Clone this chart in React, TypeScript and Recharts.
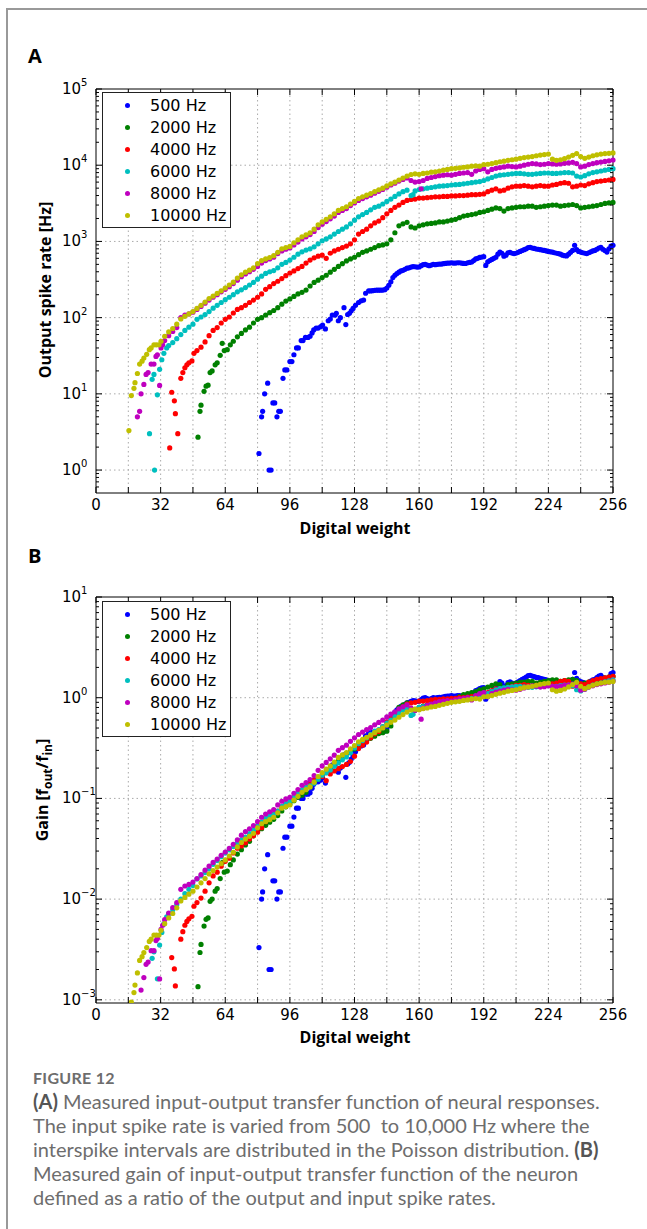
import { ScatterChart, Scatter, XAxis, YAxis, ReferenceLine, Legend } from 'recharts';

// input spike rates and their legend names / colours (matplotlib classic b g r c m y)
const INPUT_HZ = [500, 2000, 4000, 6000, 8000, 10000];
const NAMES = ['500 Hz', '2000 Hz', '4000 Hz', '6000 Hz', '8000 Hz', '10000 Hz'];
const COLORS = ['#0000ff', '#008000', '#ff0000', '#00bfbf', '#bf00bf', '#bfbf00'];

const X_TICKS = [0, 16, 32, 48, 64, 80, 96, 112, 128, 144, 160, 176, 192, 208, 224, 240, 256];
const A_DECADES = [1, 10, 100, 1000, 10000, 100000];
const B_DECADES = [0.001, 0.01, 0.1, 1, 10];

// output spike rate [Hz] vs digital weight
const rate500 = [
  [80.7, 1.65], [82, 5], [82.5, 5.9], [83.5, 10], [85, 13.8], [85.7, 1], [86.7, 1], [87.6, 7.6], [88.5, 7.6],
  [89.6, 5], [90.5, 5.9], [91.3, 5.9], [92.6, 16], [93.5, 20.6], [94.5, 20.6], [96, 26.5], [97, 26.5], [98, 32.6],
  [99.3, 40], [100.2, 40], [101.6, 50], [102.5, 50], [103.7, 55], [105, 55], [106, 57], [107, 63], [107.8, 69],
  [109, 73], [110, 73], [111.3, 76], [112.2, 80], [113.6, 71], [115, 91], [116, 96], [117, 108], [118.4, 108],
  [119, 114], [120, 91], [121, 100], [122.8, 135], [123.7, 81], [124.6, 110], [125.5, 114], [126.4, 123],
  [127.3, 132], [128.5, 145], [130, 158], [131.3, 166], [132.5, 170], [133.5, 209], [135, 224], [136, 224],
  [137, 226], [138, 228], [139, 229], [140, 229], [141, 229], [142, 230], [143, 233], [144, 245], [145, 266],
  [146, 295], [147, 335], [148, 360], [149, 378], [150, 395], [151, 410], [152, 417], [153, 430], [154, 445],
  [155, 450], [156, 460], [157, 468], [158, 465], [159, 460], [160, 462], [161, 480], [162, 495], [163, 500],
  [164, 490], [165, 480], [166, 490], [167, 500], [168, 495], [169, 500], [170, 505], [171, 505], [172, 510],
  [173, 515], [174, 520], [175, 520], [176, 525], [177, 520], [178, 520], [179, 525], [180, 525], [181, 520],
  [182, 515], [183, 513], [184, 525], [185, 530], [186, 537], [187, 560], [188, 589], [189, 600], [190, 617],
  [191, 625], [192, 630], [193, 484], [194, 540], [195, 562], [196, 580], [197, 600], [198, 620], [199, 680],
  [200, 724], [201, 700], [202, 640], [203, 660], [204, 708], [205, 720], [206, 700], [207, 690], [208, 700],
  [209, 720], [210, 740], [211, 760], [212, 780], [213, 800], [214, 830], [215, 834], [216, 820], [217, 810],
  [218, 795], [219, 790], [220, 780], [221, 770], [222, 762], [223, 750], [224, 740], [225, 730], [226, 724],
  [227, 710], [228, 700], [229, 690], [230, 680], [231, 660], [232, 650], [233, 645], [234, 680], [235, 720],
  [236, 762], [237, 890], [238, 780], [239, 740], [240, 724], [241, 710], [242, 700], [243, 690], [244, 710],
  [245, 730], [246, 750], [247, 762], [248, 790], [249, 820], [250, 834], [251, 790], [252, 760], [253, 724],
  [254, 800], [255, 870], [256, 890],
];

const rate2000 = [
  [50.5, 2.7], [51.5, 5.9], [52, 7.1], [53.5, 10.8], [54.5, 12.6], [55.5, 13], [56.5, 19], [57.5, 20], [59, 24],
  [60, 25.5], [61.5, 32], [62.5, 46], [63.5, 37], [65, 38], [66.5, 44], [68, 49], [70, 56], [72, 62], [74, 69],
  [76, 75], [78, 85], [80, 95], [82, 100], [84, 108], [86, 116], [88, 124], [90, 135], [92, 150], [94, 165],
  [96, 176], [98, 190], [100, 205], [102, 215], [104, 230], [106, 260], [108, 290], [110, 310], [112, 335],
  [114, 360], [116, 395], [118, 430], [120, 470], [122, 510], [124, 555], [126, 590], [128, 620], [130, 670],
  [132, 720], [134, 750], [136, 790], [138, 830], [140, 880], [142, 900], [144, 930], [146, 1050], [148, 1300],
  [150, 1600], [152, 1700], [154, 1780], [156, 1550], [158, 1500], [160, 1600], [162, 1650], [164, 1700],
  [166, 1720], [168, 1750], [170, 1800], [172, 1800], [174, 1850], [176, 1900], [178, 1950], [180, 2050],
  [182, 2150], [184, 2200], [186, 2250], [188, 2300], [190, 2400], [192, 2450], [194, 2550], [196, 2650],
  [198, 2750], [200, 2700], [202, 2500], [204, 2700], [206, 2750], [208, 2800], [210, 2850], [212, 2850],
  [214, 2900], [216, 2900], [218, 2800], [220, 2850], [222, 2900], [224, 2950], [226, 3000], [228, 3000],
  [230, 2900], [232, 2950], [234, 3000], [236, 3050], [238, 2950], [240, 2750], [242, 2800], [244, 2850],
  [246, 2900], [248, 2950], [250, 3050], [252, 3150], [254, 3200], [256, 3250],
];

const rate4000 = [
  [36.5, 1.95], [37.5, 10.5], [38.8, 8.1], [39.3, 5.5], [40.5, 3], [42, 16], [43, 19], [44, 22], [45, 24],
  [46, 25.5], [47.5, 27], [48.5, 34], [50, 37], [52, 41], [54, 48], [56, 58], [58, 68], [60, 74], [62, 85],
  [64, 95], [66, 102], [68, 115], [70, 128], [72, 135], [74, 145], [76, 158], [78, 170], [80, 185], [82, 205],
  [84, 235], [86, 255], [88, 280], [90, 300], [92, 325], [94, 355], [96, 385], [98, 410], [100, 440], [102, 470],
  [104, 520], [106, 570], [108, 610], [110, 640], [112, 660], [114, 600], [116, 700], [118, 750], [120, 790],
  [122, 830], [124, 870], [126, 930], [128, 1050], [130, 1250], [132, 1350], [134, 1450], [136, 1600],
  [138, 1750], [140, 1850], [142, 2050], [144, 2300], [146, 2550], [148, 2800], [150, 3000], [152, 3250],
  [154, 3450], [156, 3550], [158, 3600], [160, 3700], [162, 3700], [164, 3750], [166, 3800], [168, 3850],
  [170, 3850], [172, 3900], [174, 3900], [176, 3950], [178, 3950], [180, 4000], [182, 4000], [184, 4050],
  [186, 4100], [188, 4100], [190, 4150], [192, 4200], [194, 4500], [196, 4700], [198, 4900], [200, 4600],
  [202, 4700], [204, 5000], [206, 5200], [208, 5300], [210, 5300], [212, 5400], [214, 5300], [216, 5200],
  [218, 5300], [220, 5400], [222, 5300], [224, 5300], [226, 5500], [228, 5600], [230, 5800], [232, 5900],
  [234, 5800], [236, 5200], [238, 5300], [240, 5500], [242, 5400], [244, 5700], [246, 5900], [248, 6100],
  [250, 6200], [252, 6300], [254, 6400], [256, 6500],
];

const rate6000 = [
  [26.5, 3], [27.8, 15.5], [28.7, 18], [29, 1], [30.4, 9.7], [31.5, 21], [32.6, 28], [33.6, 34], [35, 40],
  [36, 43], [38, 47], [40, 53], [42, 60], [44, 68], [46, 75], [48, 82], [50, 95], [52, 102], [54, 110],
  [56, 120], [58, 133], [60, 145], [62, 158], [64, 172], [66, 185], [68, 200], [70, 218], [72, 232], [74, 248],
  [76, 268], [78, 290], [80, 320], [82, 350], [84, 380], [86, 400], [88, 415], [90, 450], [92, 500], [94, 530],
  [96, 570], [98, 620], [100, 680], [102, 730], [104, 770], [106, 800], [108, 850], [110, 930], [112, 1020],
  [114, 1080], [116, 1150], [118, 1250], [120, 1350], [122, 1450], [124, 1550], [126, 1700], [128, 1900],
  [130, 2100], [132, 2250], [134, 2400], [136, 2600], [138, 2800], [140, 2900], [142, 3100], [144, 3350],
  [146, 3600], [148, 3900], [150, 4200], [152, 4500], [154, 4700], [156, 4000], [157, 4100], [158, 4600],
  [160, 4800], [162, 4900], [164, 5000], [166, 5100], [168, 5200], [170, 5300], [172, 5350], [174, 5400],
  [176, 5500], [178, 5550], [180, 5600], [182, 5700], [184, 5800], [186, 5900], [188, 6000], [190, 6100],
  [192, 6300], [194, 6600], [196, 6900], [198, 7200], [200, 7400], [202, 7500], [204, 7600], [206, 7700],
  [208, 7800], [210, 7800], [212, 7700], [214, 7600], [216, 7600], [218, 7700], [220, 7800], [222, 7900],
  [224, 7900], [226, 7800], [228, 7800], [230, 7900], [232, 8000], [234, 8000], [236, 7900], [238, 7200],
  [240, 7000], [242, 7300], [244, 7700], [246, 8000], [248, 8200], [250, 8400], [252, 8600], [254, 8800],
  [256, 9000],
];

const rate8000 = [
  [20.5, 5], [21.6, 5.9], [22.3, 10], [23.7, 13.3], [24.8, 18], [25.8, 19], [27.3, 24.6], [28.7, 24.6],
  [29.7, 31], [30.4, 32.6], [31.5, 12.9], [32.2, 40], [33, 44], [34, 50], [36, 58], [38, 66], [40, 74],
  [42, 100], [44, 108], [46, 112], [48, 118], [50, 128], [52, 140], [54, 155], [56, 170], [58, 185], [60, 200],
  [62, 218], [64, 235], [66, 255], [68, 280], [70, 310], [72, 345], [74, 375], [76, 400], [78, 430], [80, 470],
  [82, 520], [84, 560], [86, 590], [88, 620], [90, 690], [92, 750], [94, 790], [96, 820], [98, 900], [100, 980],
  [102, 1080], [104, 1150], [106, 1230], [108, 1350], [110, 1520], [112, 1680], [114, 1820], [116, 1980],
  [118, 2150], [120, 2400], [122, 2550], [124, 2700], [126, 2950], [128, 3200], [130, 3450], [132, 3650],
  [134, 3850], [136, 4050], [138, 4300], [140, 4550], [142, 4800], [144, 5150], [146, 5500], [148, 5800],
  [150, 6200], [152, 6500], [154, 6800], [156, 6300], [158, 6000], [160, 6100], [161, 4900], [162, 6300],
  [164, 6700], [166, 6900], [168, 7100], [170, 7300], [172, 7400], [174, 7500], [176, 7400], [178, 7600],
  [180, 7800], [182, 7900], [184, 8000], [186, 7600], [188, 8400], [190, 8800], [192, 9000], [194, 8200],
  [196, 8800], [198, 9100], [200, 9300], [202, 9500], [204, 9700], [206, 9600], [208, 9500], [210, 9700],
  [212, 10000], [214, 10300], [216, 10500], [218, 10400], [220, 10200], [222, 10300], [224, 10500],
  [226, 10400], [228, 10300], [230, 10400], [232, 10600], [234, 10700], [236, 10900], [238, 10500],
  [240, 9500], [242, 9700], [244, 10200], [246, 10500], [248, 10800], [250, 11000], [252, 11200],
  [254, 11400], [256, 11700],
];

const rate10000 = [
  [16.3, 3.3], [17.5, 9.5], [18.8, 11.8], [19.3, 14], [20.5, 18.5], [21.6, 24.6], [22.8, 26.8], [23.7, 29.5],
  [25.1, 33], [26.4, 38], [27.3, 40], [28.7, 44], [29.9, 44], [31.2, 44], [32.2, 49], [34, 57], [36, 65],
  [38, 72], [40, 82], [42, 96], [44, 104], [46, 112], [48, 120], [50, 132], [52, 145], [54, 160], [56, 178],
  [58, 192], [60, 208], [62, 225], [64, 245], [66, 268], [68, 292], [70, 330], [72, 365], [74, 395], [76, 420],
  [78, 450], [80, 510], [82, 560], [84, 590], [86, 615], [88, 650], [90, 720], [92, 800], [94, 830], [96, 860],
  [98, 960], [100, 1050], [102, 1150], [104, 1220], [106, 1300], [108, 1450], [110, 1650], [112, 1800],
  [114, 1950], [116, 2100], [118, 2300], [120, 2550], [122, 2700], [124, 2850], [126, 3100], [128, 3350],
  [130, 3650], [132, 3850], [134, 4050], [136, 4250], [138, 4500], [140, 4750], [142, 5000], [144, 5350],
  [146, 5700], [148, 6000], [150, 6400], [152, 6800], [154, 7200], [156, 7550], [158, 7700], [160, 7600],
  [162, 7800], [164, 7900], [166, 8100], [168, 8200], [170, 8400], [172, 8600], [174, 8800], [176, 9000],
  [178, 9100], [180, 9200], [182, 9400], [184, 9500], [186, 9700], [188, 9800], [190, 9700], [192, 10200],
  [194, 10300], [196, 10500], [198, 10800], [200, 11100], [202, 11300], [204, 11600], [206, 11800],
  [208, 12000], [210, 12300], [212, 12600], [214, 12800], [216, 13000], [218, 13300], [220, 13600],
  [222, 13800], [224, 14000], [226, 12000], [228, 11600], [230, 11800], [232, 12200], [234, 12800],
  [236, 13500], [238, 14200], [240, 13000], [242, 12300], [244, 12800], [246, 13300], [248, 13700],
  [250, 14000], [252, 14200], [254, 14300], [256, 14500],
];

const RATES = [rate500, rate2000, rate4000, rate6000, rate8000, rate10000];

const PLOT_W = 517;
const TICK_FONT = 'DejaVu Sans';

const isDecade = (v: number) => Math.abs(Math.log10(v) - Math.round(Math.log10(v))) < 1e-6;
const minorTicks = (decades: number[], lo: number, hi: number) => {
  const out: number[] = [];
  decades.forEach((d) => [2, 3, 4, 5, 6, 7, 8, 9].forEach((k) => out.push(k * d)));
  [6, 7, 8, 9].forEach((k) => out.push(k * 0.1 * decades[0]));
  return [...decades, ...out].filter((v) => v > lo && v < hi * 1.0001).sort((a, b) => a - b);
};

function makeXTick(plotH: number) {
  return (props: any) => {
    const { x, y, payload } = props;
    const v = payload.value;
    return (
      <g>
        <line x1={x} x2={x} y1={y} y2={y - 6} stroke="#000" />
        <line x1={x} x2={x} y1={y - plotH} y2={y - plotH + 6} stroke="#000" />
        {v % 32 === 0 && (
          <text x={x} y={y + 6} textAnchor="middle" dominantBaseline="hanging" fontSize={15} fontFamily={TICK_FONT} fill="#000">
            {v}
          </text>
        )}
      </g>
    );
  };
}

function YTick(props: any) {
  const { x, y, payload } = props;
  const v = payload.value;
  const major = isDecade(v);
  const len = major ? 6 : 3;
  const exp = Math.round(Math.log10(v));
  return (
    <g>
      <line x1={x} x2={x + len} y1={y} y2={y} stroke="#000" />
      <line x1={x + PLOT_W} x2={x + PLOT_W - len} y1={y} y2={y} stroke="#000" />
      {major && (
        <text x={x - 34} y={y} dominantBaseline="central" fontSize={15} fontFamily={TICK_FONT} fill="#000">
          10
          <tspan dy={-7} fontSize={10}>{exp < 0 ? '\u2212' + Math.abs(exp) : exp}</tspan>
        </text>
      )}
    </g>
  );
}

const renderLegend = () => (
  <div style={{ border: '1px solid #222', background: '#fff', padding: '1px 0 1px 22px', width: 129, boxSizing: 'border-box' }}>
    {NAMES.map((n, i) => (
      <div key={n} style={{ display: 'flex', alignItems: 'center', height: 22, fontSize: 16, fontFamily: TICK_FONT, color: '#000' }}>
        <span style={{ width: 5, height: 5, borderRadius: '50%', background: COLORS[i], marginRight: 20, flex: 'none' }} />
        {n}
      </div>
    ))}
  </div>
);

function Panel({ data, domain, decades, marginTop, legendTop }: any) {
  const plotH = 540 - marginTop - 17 - 30;
  const gridY = decades.filter((d: number) => d > domain[0] && d < domain[1]);
  return (
    <ScatterChart width={647} height={540} margin={{ top: marginTop, right: 34, bottom: 17, left: 0 }}>
      {X_TICKS.slice(1, -1).map((t) => (
        <ReferenceLine key={'vx' + t} x={t} stroke="#aaa" strokeDasharray="1.5 3" />
      ))}
      {gridY.map((t: number) => (
        <ReferenceLine key={'hy' + t} y={t} stroke="#aaa" strokeDasharray="1.5 3" />
      ))}
      <ReferenceLine x={256} stroke="#000" />
      <ReferenceLine y={domain[1]} stroke="#000" />
      <XAxis
        type="number"
        dataKey="w"
        domain={[0, 256]}
        ticks={X_TICKS}
        interval={0}
        height={30}
        tickSize={0}
        tickMargin={0}
        tickLine={false}
        axisLine={{ stroke: '#000' }}
        tick={makeXTick(plotH)}
      />
      <YAxis
        type="number"
        dataKey="v"
        scale="log"
        domain={domain}
        allowDataOverflow
        ticks={minorTicks(decades, domain[0], domain[1])}
        interval={0}
        width={96}
        tickSize={0}
        tickMargin={0}
        tickLine={false}
        axisLine={{ stroke: '#000' }}
        tick={YTick}
      />
      <Legend
        layout="vertical"
        align="center"
        verticalAlign="middle"
        content={renderLegend}
        wrapperStyle={{ left: 102, top: legendTop, width: 129 }}
      />
      {data.map((pts: any[], i: number) => (
        <Scatter
          key={NAMES[i]}
          name={NAMES[i]}
          data={pts}
          fill={COLORS[i]}
          isAnimationActive={false}
          shape={(p: any) => <circle cx={p.cx} cy={p.cy} r={2.6} fill={COLORS[i]} />}
        />
      ))}
    </ScatterChart>
  );
}

const boldLabel: any = { position: 'absolute', fontFamily: 'Open Sans', fontWeight: 700, fontSize: 16, color: '#000', whiteSpace: 'nowrap', lineHeight: '18px' };

export default function App() {
  const panelA = RATES.map((s) => s.map(([w, v]) => ({ w, v })));
  // gain = output rate / input rate
  const panelB = RATES.map((s, i) => s.map(([w, v]) => ({ w, v: v / INPUT_HZ[i] })));
  return (
    <div style={{ position: 'absolute', left: 0, top: 0, width: 647, height: 1229, background: '#fff', overflow: 'hidden' }}>
      <div style={{ position: 'absolute', left: 6, top: 8, width: 700, height: 1300, borderLeft: '2px solid #999', borderTop: '2px solid #999' }} />

      <div style={{ ...boldLabel, left: 28, top: 45, fontSize: 20, lineHeight: '22px' }}>A</div>
      <div style={{ position: 'absolute', left: 0, top: 0 }}>
        <Panel data={panelA} domain={[0.5, 100000]} decades={A_DECADES} marginTop={89} legendTop={92} />
      </div>
      <div style={{ ...boldLabel, left: 45, top: 290, transform: 'translate(-50%, -50%) rotate(-90deg)' }}>Output spike rate [Hz]</div>
      <div style={{ ...boldLabel, left: 355, top: 528, transform: 'translate(-50%, -50%)' }}>Digital weight</div>

      <div style={{ ...boldLabel, left: 28, top: 545, fontSize: 20, lineHeight: '22px' }}>B</div>
      <div style={{ position: 'absolute', left: 0, top: 510 }}>
        <Panel data={panelB} domain={[0.00093, 10]} decades={B_DECADES} marginTop={87} legendTop={91} />
      </div>
      <div style={{ ...boldLabel, left: 45, top: 790, transform: 'translate(-50%, -50%) rotate(-90deg)' }}>
        Gain [f<sub style={{ fontSize: 12 }}>out</sub>/f<sub style={{ fontSize: 12 }}>in</sub>]
      </div>
      <div style={{ ...boldLabel, left: 355, top: 1037, transform: 'translate(-50%, -50%)' }}>Digital weight</div>

      <div style={{ position: 'absolute', left: 33, top: 1067, fontFamily: 'Lato', color: '#6d6d6d' }}>
        <div style={{ fontSize: 16, fontWeight: 700, letterSpacing: 0.3, lineHeight: '22px' }}>FIGURE 12</div>
        <div style={{ fontSize: 20, lineHeight: '24px', whiteSpace: 'pre' }}>
          <b style={{ color: '#555' }}>(A)</b> Measured input-output transfer function of neural responses.{'\n'}
          The input spike rate is varied from 500  to 10,000 Hz where the{'\n'}
          interspike intervals are distributed in the Poisson distribution. <b style={{ color: '#555' }}>(B)</b>{'\n'}
          Measured gain of input-output transfer function of the neuron{'\n'}
          defined as a ratio of the output and input spike rates.
        </div>
      </div>
    </div>
  );
}
